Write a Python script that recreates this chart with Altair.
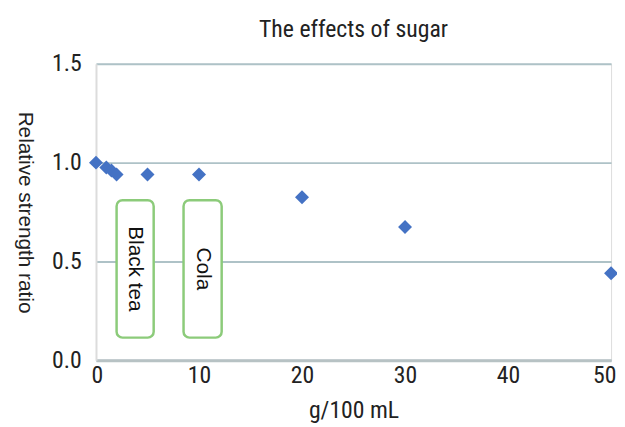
import altair as alt
import pandas as pd

# data
sugar = [0, 1, 1.5, 2, 5, 10, 20, 30, 50]
ratio = [1.0, 0.975, 0.96, 0.94, 0.94, 0.94, 0.825, 0.675, 0.44]

box_labels = ["Black tea", "Cola"]
box_x0 = [2.0, 8.5]
box_x1 = [5.6, 12.2]
box_y0 = [0.115, 0.115]
box_y1 = [0.81, 0.81]

pts = pd.DataFrame({"sugar": sugar, "ratio": ratio})
boxes = pd.DataFrame({"label": box_labels, "x0": box_x0, "x1": box_x1,
                      "y0": box_y0, "y1": box_y1})
boxes["xm"] = (boxes["x0"] + boxes["x1"]) / 2
boxes["ym"] = (boxes["y0"] + boxes["y1"]) / 2

COND = "Liberation Sans Narrow, Roboto Condensed, DejaVu Sans Condensed, sans-serif"
REG = "Liberation Sans, Arial, sans-serif"

xscale = alt.Scale(domain=[0, 50], nice=False, zero=False)
yscale = alt.Scale(domain=[0, 1.5], nice=False)

xaxis = alt.Axis(values=[0, 10, 20, 30, 40, 50], grid=False, ticks=False,
                 domain=True, domainColor="#b7c2c4", domainWidth=3,
                 labelFont=COND, labelFontSize=24, labelColor="#222",
                 labelPadding=3, labelFlush=True, labelFlushOffset=5,
                 title="g/100 mL", titleFont=COND,
                 titleFontSize=24, titleFontWeight="normal", titleColor="#222",
                 titlePadding=12)
yaxis = alt.Axis(values=[0, 0.5, 1.0, 1.5], format=".1f", grid=True,
                 gridColor="#aec2c7", gridWidth=2, ticks=False,
                 domain=True, domainColor="#dcdcdc", domainWidth=2,
                 labelFont=COND, labelFontSize=24, labelColor="#222",
                 labelPadding=15, title="Relative strength ratio",
                 titleFont=REG, titleFontSize=21, titleFontWeight="normal",
                 titleColor="#222", titleAngle=90, titleX=-72, titleY=150,
                 titleAlign="center", titleBaseline="middle")

rects = alt.Chart(boxes).mark_rect(
    fill="white", stroke="#8ccb7a", strokeWidth=2.5, cornerRadius=6
).encode(
    x=alt.X("x0:Q", scale=xscale, axis=xaxis),
    x2="x1:Q",
    y=alt.Y("y0:Q", scale=yscale, axis=yaxis),
    y2="y1:Q",
)

texts = alt.Chart(boxes).mark_text(
    angle=90, font=REG, fontSize=21, color="#111",
    align="center", baseline="middle"
).encode(
    x=alt.X("xm:Q", scale=xscale),
    y=alt.Y("ym:Q", scale=yscale),
    text="label:N",
)

points = alt.Chart(pts).mark_point(
    shape="diamond", filled=True, size=200, color="#4472c4", opacity=1
).encode(
    x=alt.X("sugar:Q", scale=xscale),
    y=alt.Y("ratio:Q", scale=yscale),
)

chart = alt.layer(rects, texts, points).properties(
    width=521, height=300,
    title=alt.TitleParams("The effects of sugar", font=COND, fontSize=24,
                          fontWeight="normal", color="#222", offset=10,
                          anchor="middle"),
    autosize="none",
    padding={"left": 89, "top": 54, "right": 6, "bottom": 64},
).configure_view(stroke=None).configure(background="white")

chart.save("out.html", embed_options={"renderer": "svg", "actions": False})
